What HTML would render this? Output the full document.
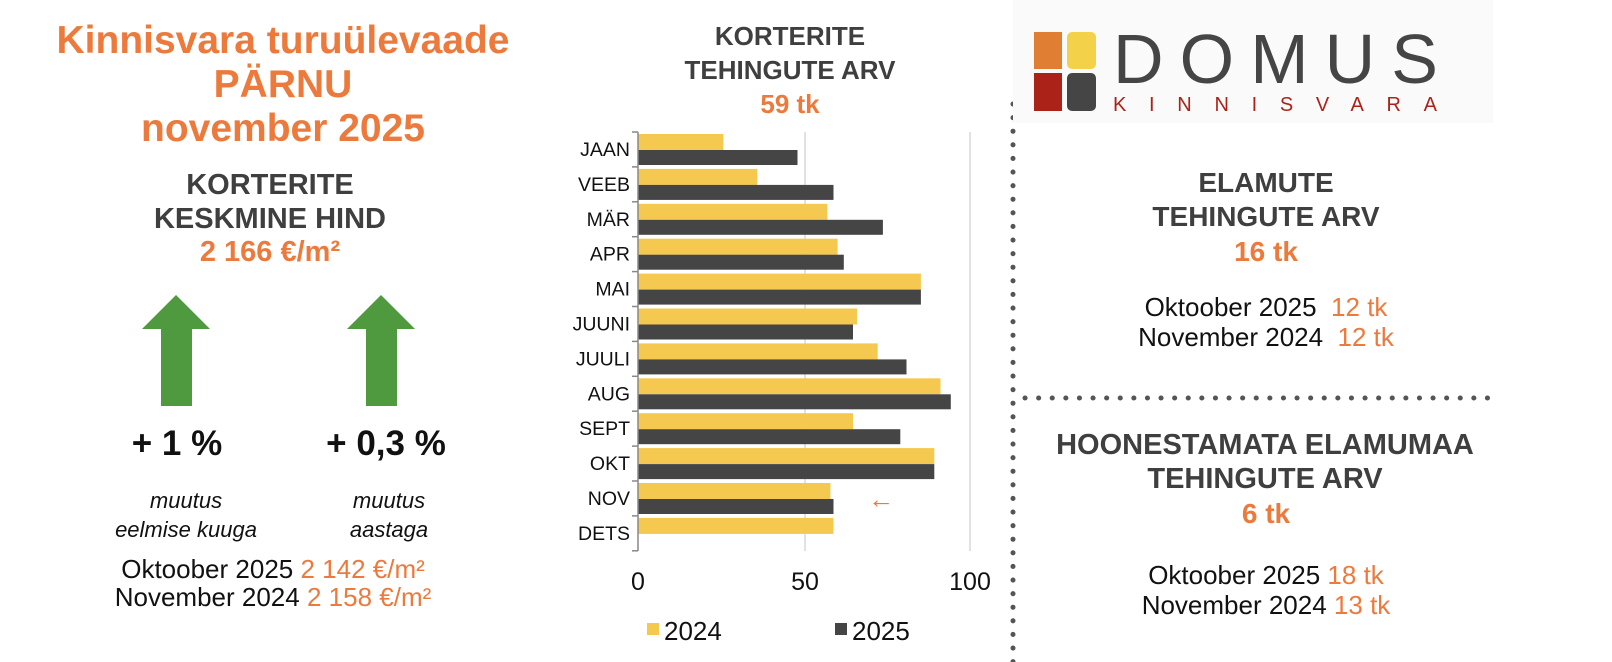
<!DOCTYPE html>
<html><head><meta charset="utf-8"><style>
body{margin:0;width:1612px;height:662px;background:#fff;position:relative;overflow:hidden;font-family:"Liberation Sans",Arial,sans-serif}
.t{position:absolute;text-align:center;font-weight:bold}
.o{color:#ec7a3c}.g{color:#3f3f3f}
</style></head><body>
<div class="t o" style="left:33px;width:500px;top:19px;font-size:39px;line-height:44px;white-space:nowrap">Kinnisvara turuülevaade<br>PÄRNU<br>november 2025</div>
<div class="t g" style="left:70px;width:400px;top:168px;font-size:29px;line-height:34px">KORTERITE<br>KESKMINE HIND</div>
<div class="t o" style="left:70px;width:400px;top:236px;font-size:29px">2 166 €/m²</div>
<svg style="position:absolute;left:0;top:0" width="1612" height="662">
<polygon points="176,295 210,329 192,329 192,406 161,406 161,329 142,329" fill="#4f9a3e"/>
<polygon points="381,295 415,329 397,329 397,406 366,406 366,329 347,329" fill="#4f9a3e"/>
<g stroke="#d9d9d9" stroke-width="1.5"><line x1="805" y1="132" x2="805" y2="551"/><line x1="970" y1="132" x2="970" y2="551"/></g>
<g id="bars"></g>
<line x1="638" y1="132" x2="638" y2="551" stroke="#888" stroke-width="1.5"/>
<g id="ticks" stroke="#888" stroke-width="1.5"></g>
<g id="labs" font-size="19.5" fill="#111" text-anchor="end"></g>
<g font-size="25" fill="#111" text-anchor="middle"><text x="638" y="590">0</text><text x="805" y="590">50</text><text x="970" y="590">100</text></g>
<text x="868" y="508" font-size="26" fill="#ec7a3c">←</text>
<rect x="647" y="623" width="12" height="12" fill="#f5c94f"/><text x="664" y="640" font-size="26" fill="#111">2024</text>
<rect x="835" y="623" width="12" height="12" fill="#454545"/><text x="852" y="640" font-size="26" fill="#111">2025</text>
<line x1="1013" y1="104" x2="1013" y2="662" stroke="#555" stroke-width="5" stroke-dasharray="0.1 13.5" stroke-linecap="round"/>
<line x1="1025" y1="398" x2="1492" y2="398" stroke="#555" stroke-width="5" stroke-dasharray="0.1 13.5" stroke-linecap="round"/>
<rect x="1013" y="0" width="480" height="123" fill="#fafafa"/>
<rect x="1034" y="32" width="28" height="37" fill="#e07e33"/>
<rect x="1067" y="32" width="29" height="37" rx="5" fill="#f3d24a"/>
<rect x="1034" y="73" width="28" height="38" fill="#ab2219"/>
<rect x="1067" y="73" width="29" height="38" rx="5" fill="#454545"/>
<text x="1113" y="83" font-size="70" fill="#454545" textLength="325" lengthAdjust="spacing">DOMUS</text>
<text x="1113" y="111" font-size="20" fill="#ab2219" textLength="324" lengthAdjust="spacing">KINNISVARA</text>
</svg>
<div class="t g" style="left:640px;width:300px;top:19px;font-size:26px;line-height:34px">KORTERITE<br>TEHINGUTE ARV</div>
<div class="t o" style="left:640px;width:300px;top:89px;font-size:26px">59 tk</div>
<div class="t" style="left:77px;width:200px;top:424px;font-size:35px;color:#111">+ 1 %</div>
<div class="t" style="left:286px;width:200px;top:424px;font-size:35px;color:#111">+ 0,3 %</div>
<div style="position:absolute;left:86px;width:200px;top:486px;text-align:center;font-style:italic;font-size:22px;line-height:29px;color:#111">muutus<br>eelmise kuuga</div>
<div style="position:absolute;left:289px;width:200px;top:486px;text-align:center;font-style:italic;font-size:22px;line-height:29px;color:#111">muutus<br>aastaga</div>
<div style="position:absolute;left:73px;width:400px;top:555px;text-align:center;font-size:26px;line-height:28px;color:#111;white-space:nowrap">Oktoober 2025 <span class="o">2 142 €/m²</span><br>November 2024 <span class="o">2 158 €/m²</span></div>
<div class="t g" style="left:1066px;width:400px;top:166px;font-size:28px;line-height:34px">ELAMUTE<br>TEHINGUTE ARV</div>
<div class="t o" style="left:1066px;width:400px;top:236px;font-size:28px">16 tk</div>
<div style="position:absolute;left:1066px;width:400px;top:292px;text-align:center;font-size:26px;line-height:30px;color:#111">Oktoober 2025 &nbsp;<span class="o">12 tk</span><br>November 2024 &nbsp;<span class="o">12 tk</span></div>
<div class="t g" style="left:1020px;width:490px;top:428px;font-size:29px;line-height:34px;white-space:nowrap">HOONESTAMATA ELAMUMAA<br>TEHINGUTE ARV</div>
<div class="t o" style="left:1066px;width:400px;top:498px;font-size:28px">6 tk</div>
<div style="position:absolute;left:1066px;width:400px;top:560px;text-align:center;font-size:26px;line-height:30px;color:#111">Oktoober 2025 <span class="o">18 tk</span><br>November 2024 <span class="o">13 tk</span></div>
<script>
var y=[703,736,804,814,895,833,853,914,829,908,807,810],d=[775,810,858,820,895,829,881,924,875,908,810,0],
m=["JAAN","VEEB","MÄR","APR","MAI","JUUNI","JUULI","AUG","SEPT","OKT","NOV","DETS"],s='',tk='',lb='',B=34.9;
function X(v){return ((v-620)*1.0288).toFixed(1);}
for(var i=0;i<12;i++){var t=132+B*i;s+='<rect x="638" y="'+(t+2)+'" width="'+X(y[i])+'" height="16" fill="#f5c94f"/>';if(d[i])s+='<rect x="638" y="'+(t+18)+'" width="'+X(d[i])+'" height="15" fill="#454545"/>';
lb+='<text x="630" y="'+(t+24)+'">'+m[i]+'</text>';}
for(var i=0;i<=12;i++){var t=132+B*i;tk+='<line x1="632" y1="'+t+'" x2="638" y2="'+t+'"/>';}
document.getElementById('bars').innerHTML=s;document.getElementById('ticks').innerHTML=tk;document.getElementById('labs').innerHTML=lb;
</script>
</body></html>
